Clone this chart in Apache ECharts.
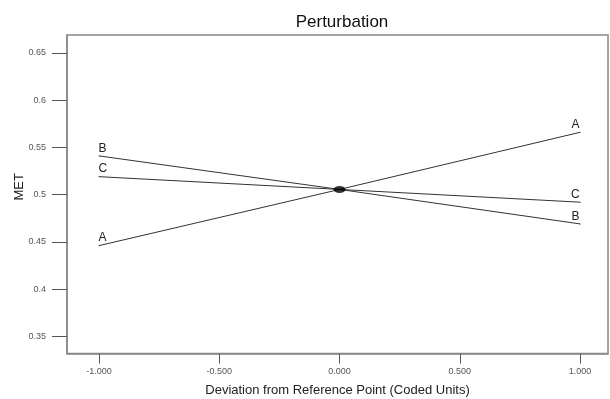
<!DOCTYPE html>
<html><head><meta charset="utf-8">
<script src="https://cdn.jsdelivr.net/npm/echarts@6/dist/echarts.min.js"></script>
<style>html,body{margin:0;padding:0;background:#fff}#c{width:610px;height:399px}</style>
</head><body><div id="c"></div>
<script>
const xs = [-1, 0, 1];
const seriesNames = ['A', 'B', 'C'];
const valuesA = [0.446, 0.5055, 0.566];
const valuesB = [0.541, 0.5055, 0.469];
const valuesC = [0.519, 0.5055, 0.492];
const refPoint = [0, 0.5055];
const xTicks = [-1, -0.5, 0, 0.5, 1];
const yTicks = [0.35, 0.4, 0.45, 0.5, 0.55, 0.6, 0.65];

const font = 'Liberation Sans, Arial, sans-serif';
function mk(name, vals) {
  return {
    type: 'line', name: name, symbol: 'circle', symbolSize: 1, showSymbol: true, showAllSymbol: true, silent: true,
    itemStyle: { color: '#333' },
    lineStyle: { color: '#333', width: 1 },
    data: xs.map((x, i) => {
      const d = { value: [x, vals[i]] };
      if (i === 0) d.label = { show: true, formatter: name, position: [0, -1], align: 'left', verticalAlign: 'bottom' };
      if (i === xs.length - 1) d.label = { show: true, formatter: name, position: [0, -1], align: 'right', verticalAlign: 'bottom' };
      return d;
    }),
    label: { show: false, color: '#222', fontSize: 12, fontFamily: font },
    labelLayout: { hideOverlap: false },
    z: 3
  };
}
const chart = echarts.init(document.getElementById('c'));
chart.setOption({
  animation: false,
  title: { text: 'Perturbation', left: 337, textAlign: 'center', top: 9, textStyle: { fontSize: 17, fontWeight: 'normal', color: '#111', fontFamily: font } },
  grid: { left: 67, top: 35, right: 2, bottom: 45.5, show: true, borderColor: '#888', borderWidth: 1.5, containLabel: false, outerBoundsMode: 'none' },
  xAxis: {
    type: 'value', min: -1.133, max: 1.116,
    name: 'Deviation from Reference Point (Coded Units)', nameLocation: 'middle', nameGap: 30, nameMoveOverlap: false,
    nameTextStyle: { fontSize: 13, color: '#222', fontFamily: font },
    axisLine: { onZero: false, lineStyle: { color: '#888', width: 1.5 } },
    axisTick: { show: true, inside: false, customValues: xTicks, length: 10, lineStyle: { color: '#555' } },
    axisLabel: { customValues: xTicks, formatter: v => v.toFixed(3), fontSize: 9, color: '#555', margin: 14, fontFamily: font },
    splitLine: { show: false }
  },
  yAxis: {
    type: 'value', min: 0.3318, max: 0.669,
    name: 'MET', nameLocation: 'middle', nameGap: 41, nameRotate: 90, nameMoveOverlap: false,
    nameTextStyle: { fontSize: 13, color: '#222', fontFamily: font, padding: [0, 0, 0, 15] },
    axisLine: { onZero: false, lineStyle: { color: '#888', width: 1.5 } },
    axisTick: { show: true, inside: false, customValues: yTicks, length: 15, lineStyle: { color: '#555' } },
    axisLabel: { customValues: yTicks, formatter: v => String(Number(v.toFixed(2))), fontSize: 9, color: '#555', margin: 21, fontFamily: font },
    splitLine: { show: false }
  },
  series: [
    mk(seriesNames[0], valuesA),
    mk(seriesNames[1], valuesB),
    mk(seriesNames[2], valuesC),
    { type: 'scatter', silent: true, symbol: 'circle', symbolSize: [12, 7], itemStyle: { color: '#000' }, data: [refPoint], z: 5 }
  ]
});
</script></body></html>
